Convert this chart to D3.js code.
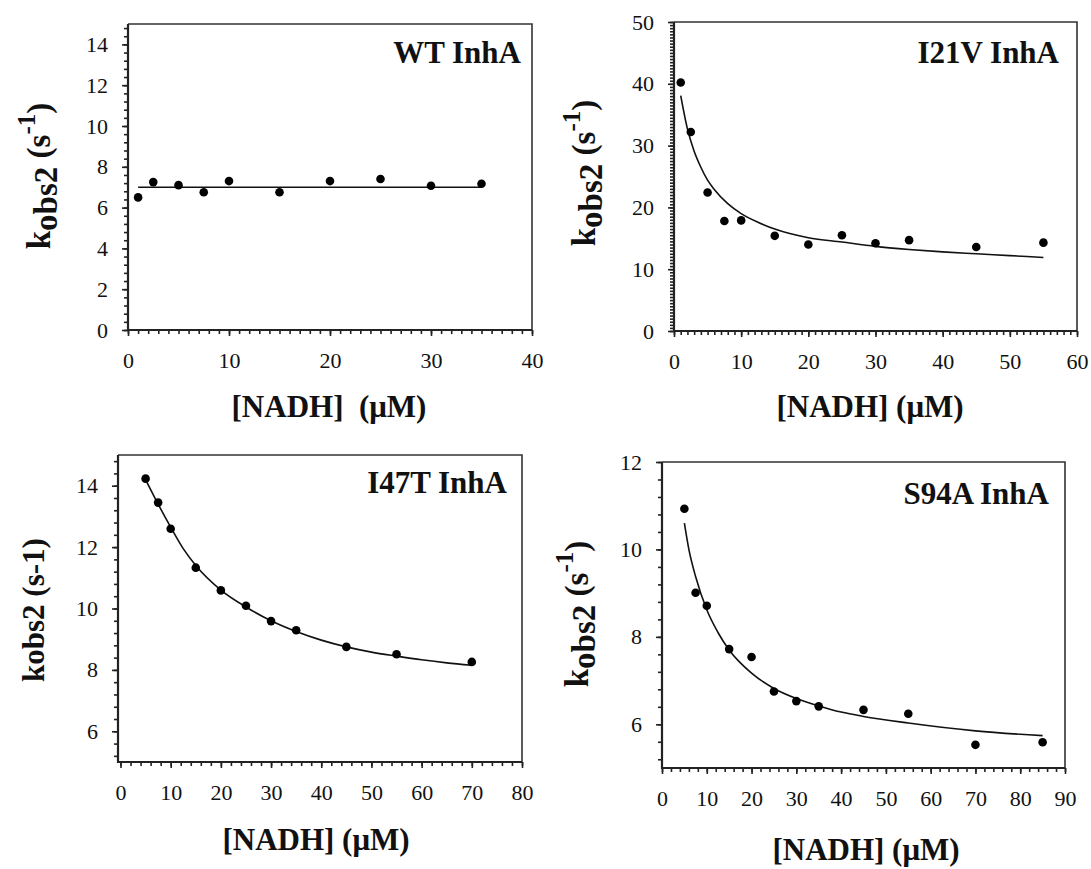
<!DOCTYPE html>
<html>
<head>
<meta charset="UTF-8">
<title>kobs2 vs NADH</title>
<script src="https://cdn.jsdelivr.net/npm/d3@7"></script>
<style>
  body { margin: 0; background: #fff; }
  text { font-family: "Liberation Serif", "Times New Roman", serif; fill: #111; }
  .ttl, .xl, .yl { font-weight: bold; }
</style>
</head>
<body>
<script>

// ---- data ----
var wtX = [1, 2.5, 5, 7.5, 10, 15, 20, 25, 30, 35];
var wtY = [6.5, 7.25, 7.1, 6.75, 7.3, 6.75, 7.3, 7.4, 7.07, 7.17];
var wtFitX = [1, 35];
var wtFitY = [7.0, 7.0];

var i21vX = [1, 2.5, 5, 7.5, 10, 15, 20, 25, 30, 35, 45, 55];
var i21vY = [40.2, 32.2, 22.4, 17.8, 17.9, 15.4, 14.0, 15.5, 14.2, 14.7, 13.6, 14.3];
var i21vFitX = [1, 2, 3, 4, 5, 6, 8, 10, 12.5, 15, 20, 25, 30, 35, 40, 45, 50, 55];
var i21vFitY = [38.1, 32.7, 29.1, 26.5, 24.4, 22.9, 20.6, 19.0, 17.6, 16.5, 15.1, 14.4, 13.7, 13.2, 12.8, 12.5, 12.2, 11.9];

var i47tX = [5, 7.5, 10, 15, 20, 25, 30, 35, 45, 55, 70];
var i47tY = [14.23, 13.45, 12.6, 11.33, 10.59, 10.09, 9.59, 9.29, 8.75, 8.51, 8.26];
var i47tFitX = [5, 7.5, 10, 12.5, 15, 20, 25, 30, 35, 40, 45, 50, 55, 60, 65, 70];
var i47tFitY = [14.2, 13.4, 12.65, 11.95, 11.4, 10.6, 10.05, 9.6, 9.25, 8.97, 8.75, 8.58, 8.45, 8.33, 8.23, 8.15];

var s94aX = [5, 7.5, 10, 15, 20, 25, 30, 35, 45, 55, 70, 85];
var s94aY = [10.93, 9.01, 8.71, 7.72, 7.54, 6.75, 6.53, 6.41, 6.33, 6.24, 5.53, 5.59];
var s94aFitX = [5, 6, 7.5, 10, 12.5, 15, 20, 25, 30, 35, 40, 45, 55, 70, 85];
var s94aFitY = [10.6, 10.0, 9.38, 8.62, 8.1, 7.7, 7.17, 6.82, 6.59, 6.42, 6.28, 6.18, 6.03, 5.85, 5.74];

// tick labels
var wtXTicks = [0, 10, 20, 30, 40];
var wtYTicks = [0, 2, 4, 6, 8, 10, 12, 14];
var i21vXTicks = [0, 10, 20, 30, 40, 50, 60];
var i21vYTicks = [0, 10, 20, 30, 40, 50];
var i47tXTicks = [0, 10, 20, 30, 40, 50, 60, 70, 80];
var i47tYTicks = [6, 8, 10, 12, 14];
var s94aXTicks = [0, 10, 20, 30, 40, 50, 60, 70, 80, 90];
var s94aYTicks = [6, 8, 10, 12];

var svg = d3.select("body").append("svg")
            .attr("width", 1091)
            .attr("height", 869);

// layout of each panel (pixel boxes), kept apart from the data
var panels = [
  { title: "WT InhA", xs: wtX, ys: wtY, fx: wtFitX, fy: wtFitY,
    xTicks: wtXTicks, yTicks: wtYTicks, xMinor: 1, yMinor: 0.4,
    xDom: [0, 40], yDom: [0, 15],
    box: { l: 128, r: 532, t: 24, b: 330 }, x0: 128,
    titlePos: [521, 63], xlab: "[NADH]\u00a0\u00a0(\u03bcM)", xlabPos: [329, 417],
    ylabPos: [50, 176], fancyY: true },
  { title: "I21V InhA", xs: i21vX, ys: i21vY, fx: i21vFitX, fy: i21vFitY,
    xTicks: i21vXTicks, yTicks: i21vYTicks, xMinor: 1, yMinor: 0.5,
    xDom: [0, 60], yDom: [0, 50],
    box: { l: 674, r: 1077, t: 22, b: 331 }, x0: 674,
    titlePos: [1059, 63], xlab: "[NADH] (\u03bcM)", xlabPos: [870, 417],
    ylabPos: [595, 173], fancyY: true },
  { title: "I47T InhA", xs: i47tX, ys: i47tY, fx: i47tFitX, fy: i47tFitY,
    xTicks: i47tXTicks, yTicks: i47tYTicks, xMinor: 2, yMinor: 0.4,
    xDom: [0, 80], yDom: [5, 15],
    box: { l: 118, r: 522, t: 455, b: 762 }, x0: 120.5,
    titlePos: [507, 493], xlab: "[NADH] (\u03bcM)", xlabPos: [316, 850],
    ylabPos: [44, 610], fancyY: false },
  { title: "S94A InhA", xs: s94aX, ys: s94aY, fx: s94aFitX, fy: s94aFitY,
    xTicks: s94aXTicks, yTicks: s94aYTicks, xMinor: 2, yMinor: 0.4,
    xDom: [0, 90], yDom: [5, 12],
    box: { l: 662, r: 1065, t: 462, b: 768 }, x0: 662,
    titlePos: [1049, 504], xlab: "[NADH] (\u03bcM)", xlabPos: [866, 860],
    ylabPos: [588, 614], fancyY: true }
];

//minor tick values lined up with the first major tick
function minorTicks(dom, base, step) {
  var out = [];
  for (var k = -100; k < 300; k++) {
    var v = base + k * step;
    if (v >= dom[0] - 1e-9 && v <= dom[1] + 1e-9) out.push(+v.toFixed(4));
  }
  return out;
}

//strip d3's default axis font so the serif face and size stick
function plainAxis(s) {
  s.select(".domain").remove();
  s.attr("font-family", null).attr("font-size", null);
  s.selectAll(".tick line").attr("stroke", "#222").attr("stroke-width", 1.6);
  s.selectAll(".tick text")
   .attr("fill", "#111")
   .attr("font-size", 22)
   .attr("font-family", "Liberation Serif, Times New Roman, serif");
}

panels.forEach(function (p) {
  var b = p.box;
  var x = d3.scaleLinear().domain(p.xDom).range([p.x0, b.r]);
  var y = d3.scaleLinear().domain(p.yDom).range([b.b, b.t]);
  var g = svg.append("g");
  var fmt = d3.format("d");

  //frame: top/right thinner than the axes
  g.append("path")
   .attr("d", "M" + b.l + "," + b.t + "H" + b.r + "V" + b.b)
   .attr("fill", "none").attr("stroke", "#333").attr("stroke-width", 1.6);

  //minor ticks
  g.append("g").attr("transform", "translate(0," + b.b + ")")
   .call(d3.axisBottom(x).tickValues(minorTicks(p.xDom, p.xTicks[0], p.xMinor))
          .tickSize(4).tickSizeOuter(0).tickFormat(""))
   .call(plainAxis);
  g.append("g").attr("transform", "translate(" + b.l + ",0)")
   .call(d3.axisLeft(y).tickValues(minorTicks(p.yDom, p.yTicks[0], p.yMinor))
          .tickSize(4).tickSizeOuter(0).tickFormat(""))
   .call(plainAxis);

  //major ticks + labels
  g.append("g").attr("transform", "translate(0," + b.b + ")")
   .call(d3.axisBottom(x).tickValues(p.xTicks).tickFormat(fmt)
          .tickSize(6).tickSizeOuter(0).tickPadding(16))
   .call(plainAxis);
  g.append("g").attr("transform", "translate(" + b.l + ",0)")
   .call(d3.axisLeft(y).tickValues(p.yTicks).tickFormat(fmt)
          .tickSize(6).tickSizeOuter(0).tickPadding(14))
   .call(plainAxis);

  //axis lines
  g.append("path")
   .attr("d", "M" + b.l + "," + b.t + "V" + b.b + "H" + b.r)
   .attr("fill", "none").attr("stroke", "#222").attr("stroke-width", 2.2);

  //fitted curve
  var fit = p.fx.map(function (v, i) { return [v, p.fy[i]]; });
  g.append("path")
   .datum(fit)
   .attr("fill", "none").attr("stroke", "#111").attr("stroke-width", 1.6)
   .attr("d", d3.line().x(function (d) { return x(d[0]); })
                       .y(function (d) { return y(d[1]); })
                       .curve(d3.curveMonotoneX));

  //points
  g.selectAll("circle.pt")
   .data(p.xs.map(function (v, i) { return [v, p.ys[i]]; }))
   .enter().append("circle")
   .attr("class", "pt")
   .attr("cx", function (d) { return x(d[0]); })
   .attr("cy", function (d) { return y(d[1]); })
   .attr("r", 4.3)
   .attr("fill", "#000");

  //title
  g.append("text").attr("class", "ttl")
   .attr("x", p.titlePos[0]).attr("y", p.titlePos[1])
   .attr("text-anchor", "end").attr("font-size", 31)
   .text(p.title);

  //x label
  g.append("text").attr("class", "xl")
   .attr("x", p.xlabPos[0]).attr("y", p.xlabPos[1])
   .attr("text-anchor", "middle").attr("font-size", 31)
   .text(p.xlab);

  //y label, rotated
  var yl = g.append("text").attr("class", "yl")
   .attr("transform", "translate(" + p.ylabPos[0] + "," + p.ylabPos[1] + ") rotate(-90)")
   .attr("text-anchor", "middle");
  if (p.fancyY) {
    yl.attr("font-size", 33);
    yl.append("tspan").text("k");
    yl.append("tspan").attr("dy", 7).text("obs2");
    yl.append("tspan").attr("dy", -7).text("\u00a0(s");
    yl.append("tspan").attr("dy", -15).attr("font-size", 25).text("-1");
    yl.append("tspan").attr("dy", 15).text(")");
  } else {
    yl.attr("font-size", 31).text("kobs2 (s-1)");
  }
});

</script>
</body>
</html>
